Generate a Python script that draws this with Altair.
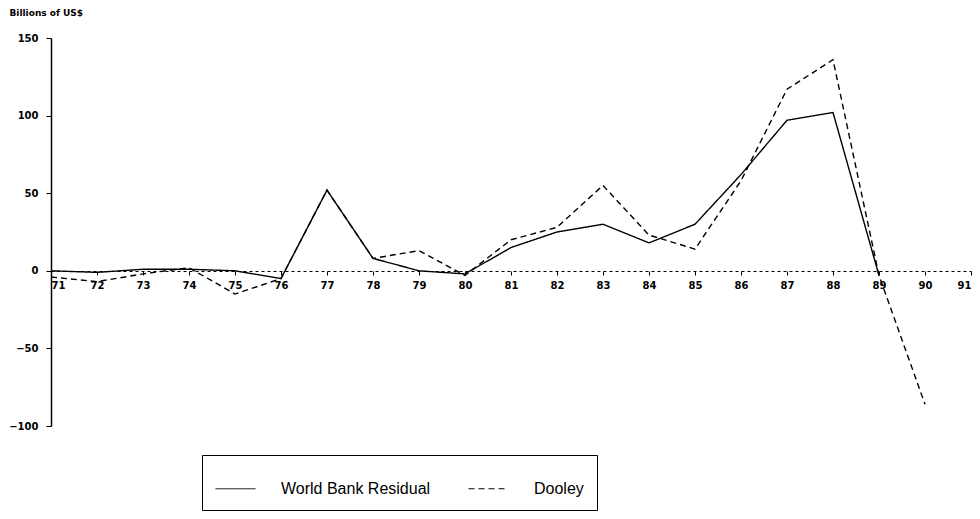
import altair as alt
import pandas as pd

# Data (billions of US$, years 1971-1991)
wb_years = list(range(71, 90))
wb_values = [0, -1, 1, 1, 0, -5, 52, 8, 0, -2, 15, 25, 30, 18, 30, 62, 97, 102, -3]
dooley_years = list(range(71, 91))
dooley_values = [-4, -7, -2, 2, -15, -5, 52, 8, 13, -3, 20, 28, 55, 23, 14, 58, 117, 136, -3, -86]
year_ticks = list(range(71, 92))
y_ticks = [150, 100, 50, 0, -50, -100]
series_names = ["World Bank Residual", "Dooley"]

rows = [{"year": y, "value": v, "series": series_names[0]} for y, v in zip(wb_years, wb_values)]
rows += [{"year": y, "value": v, "series": series_names[1]} for y, v in zip(dooley_years, dooley_values)]
df = pd.DataFrame(rows)

chart = alt.Chart(df).mark_line(color="black", strokeWidth=1.4).encode(
    x=alt.X("year:Q",
            scale=alt.Scale(domain=[71, 91], nice=False, zero=False),
            axis=alt.Axis(values=year_ticks, format="d", title=None, offset=-155,
                          grid=False, domainDash=[3, 3], domainColor="black",
                          tickColor="black", tickSize=4, labelPadding=5,
                          labelFontSize=10, labelFontWeight="bold",
                          labelFont="DejaVu Sans", labelColor="black")),
    y=alt.Y("value:Q",
            scale=alt.Scale(domain=[-100, 150], nice=False),
            axis=alt.Axis(values=y_ticks, format="d", grid=False,
                          title="Billions of US$", titleAngle=0, titleAlign="left",
                          titleBaseline="middle", titleX=-42, titleY=-26,
                          titleFontSize=9, titleFontWeight="bold", titleFont="DejaVu Sans",
                          titleColor="black",
                          domainColor="black", domainWidth=1.5, tickColor="black",
                          tickSize=5, labelPadding=8, labelFontSize=10,
                          labelFontWeight="bold", labelFont="DejaVu Sans",
                          labelColor="black")),
    strokeDash=alt.StrokeDash("series:N",
                              scale=alt.Scale(domain=series_names, range=[[1, 0], [6, 4]]),
                              sort=series_names,
                              legend=alt.Legend(title=None, orient="none", legendX=151, legendY=417,
                                                direction="horizontal", columns=2,
                                                gridAlign="all",
                                                columnPadding=35, padding=13,
                                                strokeColor="black",
                                                symbolType="stroke", symbolSize=1600,
                                                symbolStrokeColor="black", symbolStrokeWidth=1,
                                                labelOffset=25, labelFontSize=16,
                                                labelFont="Liberation Sans", labelColor="black",
                                                labelLimit=300)),
).properties(width=920, height=388, padding=0).configure_view(stroke=None)

chart.save("out.html", embed_options={"renderer": "svg", "actions": False})
